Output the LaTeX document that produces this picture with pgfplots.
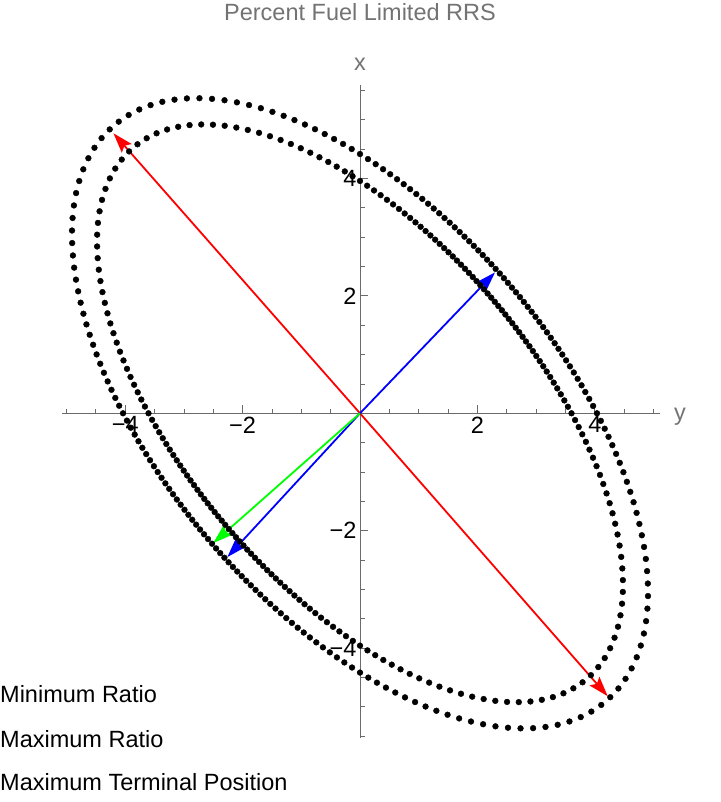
\documentclass[border=0pt]{standalone}
\usepackage{pgfplots}
\pgfplotsset{compat=1.18}
\usepackage{pgfplotstable}
\usepackage{fontspec}
\setmainfont{Liberation Sans}
\usetikzlibrary{arrows.meta}
\definecolor{axgray}{gray}{0.42}
\definecolor{titlegray}{gray}{0.45}

% polar samples (angle in degrees, radius) of the outer (ro) and inner (ri) dotted curves
\pgfplotstableread{
t ro ri
0.0 4.037 3.603
1.8 3.973 3.544
3.6 3.913 3.488
5.4 3.856 3.436
7.2 3.804 3.387
9.0 3.754 3.341
10.8 3.708 3.299
12.6 3.665 3.259
14.4 3.625 3.223
16.2 3.589 3.189
18.0 3.555 3.158
19.8 3.524 3.130
21.6 3.496 3.105
23.4 3.471 3.081
25.2 3.449 3.061
27.0 3.429 3.043
28.8 3.412 3.027
30.6 3.397 3.014
32.4 3.385 3.002
34.2 3.375 2.994
36.0 3.368 2.987
37.8 3.363 2.982
39.6 3.360 2.980
41.4 3.360 2.980
43.2 3.363 2.982
45.0 3.368 2.987
46.8 3.375 2.994
48.6 3.385 3.002
50.4 3.397 3.014
52.2 3.412 3.027
54.0 3.429 3.043
55.8 3.449 3.061
57.6 3.471 3.081
59.4 3.496 3.105
61.2 3.524 3.130
63.0 3.555 3.158
64.8 3.589 3.189
66.6 3.625 3.223
68.4 3.665 3.259
70.2 3.708 3.299
72.0 3.754 3.341
73.8 3.804 3.387
75.6 3.856 3.436
77.4 3.913 3.488
79.2 3.973 3.544
81.0 4.037 3.603
82.8 4.105 3.666
84.6 4.177 3.733
86.4 4.253 3.804
88.2 4.333 3.879
90.0 4.417 3.958
91.8 4.505 4.041
93.6 4.598 4.129
95.4 4.694 4.221
97.2 4.795 4.316
99.0 4.900 4.416
100.8 5.008 4.520
102.6 5.119 4.627
104.4 5.232 4.737
106.2 5.348 4.849
108.0 5.465 4.963
109.8 5.581 5.078
111.6 5.697 5.192
113.4 5.811 5.304
115.2 5.920 5.414
117.0 6.024 5.518
118.8 6.121 5.615
120.6 6.208 5.704
122.4 6.285 5.781
124.2 6.348 5.846
126.0 6.397 5.896
127.8 6.431 5.930
129.6 6.448 5.948
131.4 6.448 5.948
133.2 6.431 5.930
135.0 6.397 5.896
136.8 6.348 5.846
138.6 6.285 5.781
140.4 6.208 5.704
142.2 6.121 5.615
144.0 6.024 5.518
145.8 5.920 5.414
147.6 5.811 5.304
149.4 5.697 5.192
151.2 5.581 5.078
153.0 5.465 4.963
154.8 5.348 4.849
156.6 5.232 4.737
158.4 5.119 4.627
160.2 5.008 4.520
162.0 4.900 4.416
163.8 4.795 4.316
165.6 4.694 4.221
167.4 4.598 4.129
169.2 4.505 4.041
171.0 4.417 3.958
172.8 4.333 3.879
174.6 4.253 3.804
176.4 4.177 3.733
178.2 4.105 3.666
180.0 4.037 3.603
181.8 3.973 3.544
183.6 3.913 3.488
185.4 3.856 3.436
187.2 3.804 3.387
189.0 3.754 3.341
190.8 3.708 3.299
192.6 3.665 3.259
194.4 3.625 3.223
196.2 3.589 3.189
198.0 3.555 3.158
199.8 3.524 3.130
201.6 3.496 3.105
203.4 3.471 3.081
205.2 3.449 3.061
207.0 3.429 3.043
208.8 3.412 3.027
210.6 3.397 3.014
212.4 3.385 3.002
214.2 3.375 2.994
216.0 3.368 2.987
217.8 3.363 2.982
219.6 3.360 2.980
221.4 3.360 2.980
223.2 3.363 2.982
225.0 3.368 2.987
226.8 3.375 2.994
228.6 3.385 3.002
230.4 3.397 3.014
232.2 3.412 3.027
234.0 3.429 3.043
235.8 3.449 3.061
237.6 3.471 3.081
239.4 3.496 3.105
241.2 3.524 3.130
243.0 3.555 3.158
244.8 3.589 3.189
246.6 3.625 3.223
248.4 3.665 3.259
250.2 3.708 3.299
252.0 3.754 3.341
253.8 3.804 3.387
255.6 3.856 3.436
257.4 3.913 3.488
259.2 3.973 3.544
261.0 4.037 3.603
262.8 4.105 3.666
264.6 4.177 3.733
266.4 4.253 3.804
268.2 4.333 3.879
270.0 4.417 3.958
271.8 4.505 4.041
273.6 4.598 4.129
275.4 4.694 4.221
277.2 4.795 4.316
279.0 4.900 4.416
280.8 5.008 4.520
282.6 5.119 4.627
284.4 5.232 4.737
286.2 5.348 4.849
288.0 5.465 4.963
289.8 5.581 5.078
291.6 5.697 5.192
293.4 5.811 5.304
295.2 5.920 5.414
297.0 6.024 5.518
298.8 6.121 5.615
300.6 6.208 5.704
302.4 6.285 5.781
304.2 6.348 5.846
306.0 6.397 5.896
307.8 6.431 5.930
309.6 6.448 5.948
311.4 6.448 5.948
313.2 6.431 5.930
315.0 6.397 5.896
316.8 6.348 5.846
318.6 6.285 5.781
320.4 6.208 5.704
322.2 6.121 5.615
324.0 6.024 5.518
325.8 5.920 5.414
327.6 5.811 5.304
329.4 5.697 5.192
331.2 5.581 5.078
333.0 5.465 4.963
334.8 5.348 4.849
336.6 5.232 4.737
338.4 5.119 4.627
340.2 5.008 4.520
342.0 4.900 4.416
343.8 4.795 4.316
345.6 4.694 4.221
347.4 4.598 4.129
349.2 4.505 4.041
351.0 4.417 3.958
352.8 4.333 3.879
354.6 4.253 3.804
356.4 4.177 3.733
358.2 4.105 3.666
}\ellipses

\begin{document}
\begin{tikzpicture}
\useasboundingbox (0pt,0pt) rectangle (720pt,802pt);
\begin{axis}[
  at={(360pt,388.7pt)}, anchor=origin,
  x=58.7pt, y=58.7pt,
  xmin=-5.08, xmax=5.11, ymin=-5.53, ymax=5.59,
  axis lines=middle,
  axis line style={axgray, line width=0.8pt},
  every inner x axis line/.append style={-},
  every inner y axis line/.append style={-},
  xtick={-4,-2,2,4}, xticklabels={−4,−2,2,4},
  ytick={-4,-2,2,4}, yticklabels={−4,−2,2,4},
  minor xtick={-5,-4.5,-3.5,-3,-2.5,-1.5,-1,-0.5,0.5,1,1.5,2.5,3,3.5,4.5,5},
  minor ytick={-5.5,-5,-4.5,-3.5,-3,-2.5,-1.5,-1,-0.5,0.5,1,1.5,2.5,3,3.5,4.5,5,5.5},
  tick align=inside,
  major tick length=8pt, minor tick length=4.5pt,
  tick style={axgray, line width=0.8pt},
  tick label style={font=\fontsize{23.5}{28}\selectfont, black},
  clip=false,
]
\addplot[only marks, mark=*, mark size=2.9pt, black, mark options={fill=black}, data cs=polar] table[x=t, y=ro] {\ellipses};
\addplot[only marks, mark=*, mark size=2.9pt, black, mark options={fill=black}, data cs=polar] table[x=t, y=ri] {\ellipses};
\addplot[red, line width=1.8pt, -{Stealth[length=20pt,width=13pt,inset=3.5pt]}] coordinates {(0,0) (-4.2,4.77)};
\addplot[red, line width=1.8pt, -{Stealth[length=20pt,width=13pt,inset=3.5pt]}] coordinates {(0,0) (4.22,-4.82)};
\addplot[blue, line width=1.8pt, -{Stealth[length=20pt,width=13pt,inset=3.5pt]}] coordinates {(0,0) (2.30,2.40)};
\addplot[blue, line width=1.8pt, -{Stealth[length=20pt,width=13pt,inset=3.5pt]}] coordinates {(0,0) (-2.26,-2.45)};
\addplot[green, line width=1.8pt, -{Stealth[length=20pt,width=13pt,inset=3.5pt]}] coordinates {(0,0) (-2.50,-2.21)};
\end{axis}
\node[titlegray, anchor=base, font=\fontsize{23.5}{28}\selectfont] at (360pt,781pt) {Percent Fuel Limited RRS};
\node[titlegray, anchor=base, font=\fontsize{23.5}{28}\selectfont] at (360pt,731pt) {x};
\node[titlegray, anchor=base west, inner sep=0pt, font=\fontsize{23.5}{28}\selectfont] at (674pt,381pt) {y};
\node[black, anchor=base west, inner sep=0pt, font=\fontsize{23.5}{28}\selectfont] at (0pt,99pt) {Minimum Ratio};
\node[black, anchor=base west, inner sep=0pt, font=\fontsize{23.5}{28}\selectfont] at (0pt,54pt) {Maximum Ratio};
\node[black, anchor=base west, inner sep=0pt, font=\fontsize{23.5}{28}\selectfont] at (0pt,11pt) {Maximum Terminal Position};
\end{tikzpicture}
\end{document}
